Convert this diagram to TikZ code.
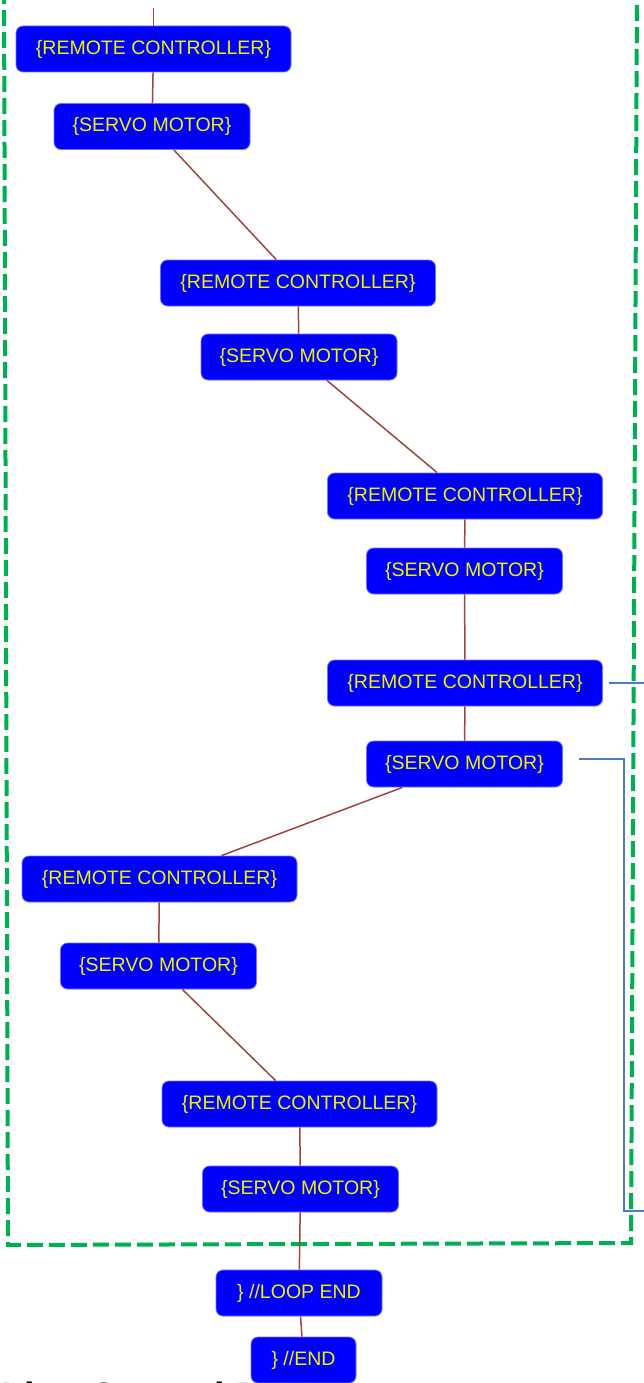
\documentclass[tikz,border=0pt]{standalone}
\usepackage{fontspec}
\setmainfont{Liberation Sans}
\definecolor{nodeblue}{HTML}{0000FF}
\definecolor{nodeedge}{HTML}{7070FF}
\definecolor{nodetext}{HTML}{F2F200}
\definecolor{edgebrown}{HTML}{A0443C}
\definecolor{loopgreen}{HTML}{00B050}
\definecolor{linkblue}{HTML}{4A7CC0}
\tikzset{
  box/.style={rounded corners=7pt, fill=nodeblue, draw=nodeedge, line width=0.8pt,
    text=nodetext, font=\fontsize{19.5}{22}\selectfont, minimum height=46pt, inner sep=0pt},
  rcbox/.style={box, minimum width=275pt},
  smbox/.style={box, minimum width=196pt},
  flow/.style={draw=edgebrown, line width=1.5pt},
  link/.style={draw=linkblue, line width=1.5pt},
  loopframe/.style={draw=loopgreen, line width=4pt, dash pattern=on 16pt off 6pt}
}
\begin{document}
\begin{tikzpicture}[x=1pt,y=-1pt]
\useasboundingbox (0,0) rectangle (644,1383);
\clip (0,0) rectangle (644,1383);
% cut-off heading at the bottom (drawn first, partly hidden by the page edge)
\node[anchor=base west, inner sep=0pt, font=\fontsize{38}{40}\bfseries] (heading) at (1,1409) {Line Control Diagram};
% loop frame
\draw[loopframe] (4,-12) -- (8,1245) -- (631,1243) -- (637,-12);
% nodes
\node[rcbox] (rc1) at (153.5,49) {\{REMOTE CONTROLLER\}};
\node[smbox] (sm1) at (152,126.5) {\{SERVO MOTOR\}};
\node[rcbox] (rc2) at (298,283) {\{REMOTE CONTROLLER\}};
\node[smbox] (sm2) at (299,357) {\{SERVO MOTOR\}};
\node[rcbox] (rc3) at (465,496) {\{REMOTE CONTROLLER\}};
\node[smbox] (sm3) at (464.5,571) {\{SERVO MOTOR\}};
\node[rcbox] (rc4) at (465,683) {\{REMOTE CONTROLLER\}};
\node[smbox] (sm4) at (464.5,764) {\{SERVO MOTOR\}};
\node[rcbox] (rc5) at (159.5,879) {\{REMOTE CONTROLLER\}};
\node[smbox] (sm5) at (158.5,966) {\{SERVO MOTOR\}};
\node[rcbox] (rc6) at (299.5,1104) {\{REMOTE CONTROLLER\}};
\node[smbox] (sm6) at (300.5,1189) {\{SERVO MOTOR\}};
\node[box, minimum width=166pt] (lend) at (299,1293) {\} //LOOP END};
\node[box, minimum width=105pt] (pend) at (303.5,1360) {\} //END};
% flow connectors
\coordinate (top) at (153.5,8);
\draw[flow] (top) -- (rc1);
\draw[flow] (rc1) -- (sm1);
\draw[flow] (sm1) -- (rc2);
\draw[flow] (rc2) -- (sm2);
\draw[flow] (sm2) -- (rc3);
\draw[flow] (rc3) -- (sm3);
\draw[flow] (sm3) -- (rc4);
\draw[flow] (rc4) -- (sm4);
\draw[flow] (sm4) -- (rc5);
\draw[flow] (rc5) -- (sm5);
\draw[flow] (sm5) -- (rc6);
\draw[flow] (rc6) -- (sm6);
\draw[flow] (sm6) -- (lend);
\draw[flow] (lend) -- (pend);
% side links
\coordinate (rcout) at (609,683);
\coordinate (rcend) at (646,683);
\draw[link] (rcout) -- (rcend);
\coordinate (smout) at (579,759);
\coordinate (smturn) at (624,759);
\coordinate (smdown) at (624,1211);
\coordinate (smend) at (646,1211);
\draw[link] (smout) -- (smturn) -- (smdown) -- (smend);
\end{tikzpicture}
\end{document}
